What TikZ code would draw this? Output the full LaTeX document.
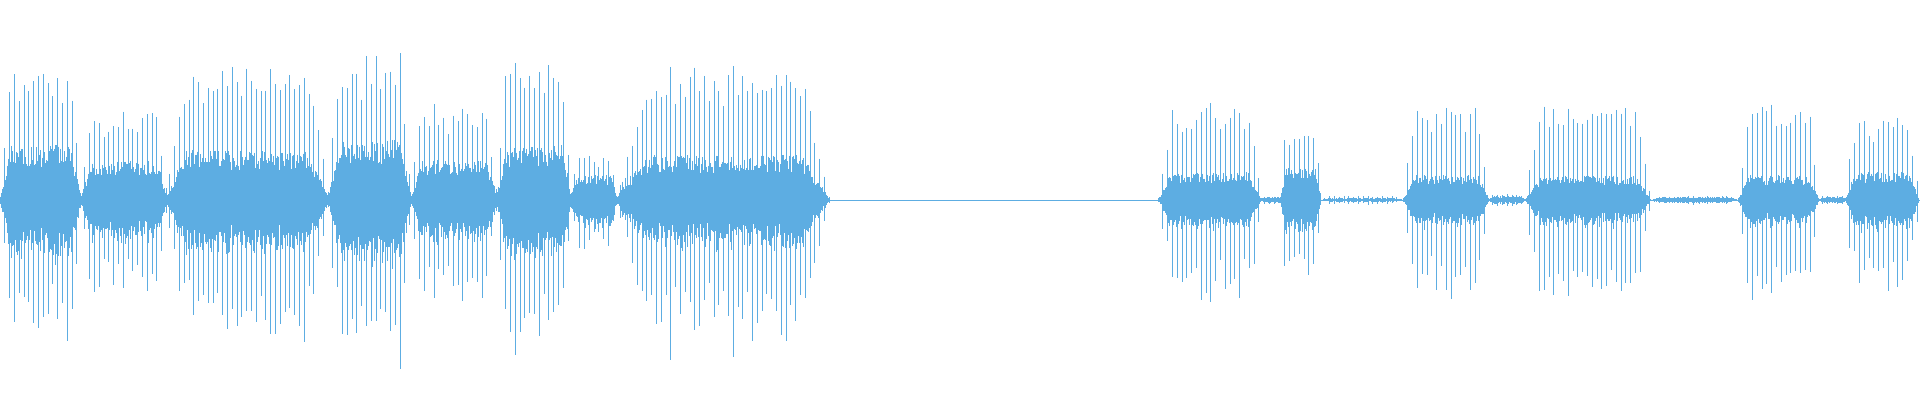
\documentclass[tikz,border=0pt]{standalone}
\definecolor{wave}{HTML}{5DADE2}
\newcommand\burst[4]{%
  \pgfmathtruncatemacro\NN{(#2-#1)/0.8}%
  \pgfmathsetmacro\dd{180/\NN}%
  \foreach \i in {0,...,\NN}{%
    \pgfmathsetmacro\xx{#1+\i*0.8}%
    \pgfmathsetmacro\sv{sin(\dd*\i)}%
    \pgfmathsetmacro\env{min(1,2.5*\sv)}%
    \pgfmathsetmacro\pk{(mod(\i,6)==0)}%
    \pgfmathsetmacro\amp{\env*(#3*(0.6+0.4*rnd)+\pk*#4*(0.8+0.4*rnd))}%
    \pgfmathsetmacro\ampb{\amp*(0.8+0.4*rnd)}%
    \draw (\xx,200-\amp) -- (\xx,200+\ampb);
  }}
\begin{document}
\begin{tikzpicture}[x=0.5pt,y=-0.5pt,wave,line width=0.35pt]
\useasboundingbox (0,0) rectangle (1920,400);
\pgfmathsetseed{7}
\draw (0,200) -- (1920,200);
\burst{0}{82}{55}{75}
\burst{80}{168}{40}{45}
\burst{165}{330}{50}{75}
\burst{328}{412}{60}{75}
\burst{410}{498}{40}{50}
\burst{496}{572}{55}{75}
\burst{570}{618}{25}{20}
\burst{616}{660}{15}{10}
\burst{618}{830}{45}{80}
\burst{1158}{1262}{28}{60}
\burst{1260}{1282}{3}{1}
\burst{1280}{1322}{32}{40}
\burst{1320}{1405}{2}{2}
\burst{1403}{1490}{25}{60}
\burst{1488}{1527}{4}{2}
\burst{1525}{1652}{25}{65}
\burst{1650}{1740}{3}{1}
\burst{1738}{1820}{25}{60}
\burst{1818}{1848}{3}{1}
\burst{1845}{1920}{28}{50}
\end{tikzpicture}
\end{document}
